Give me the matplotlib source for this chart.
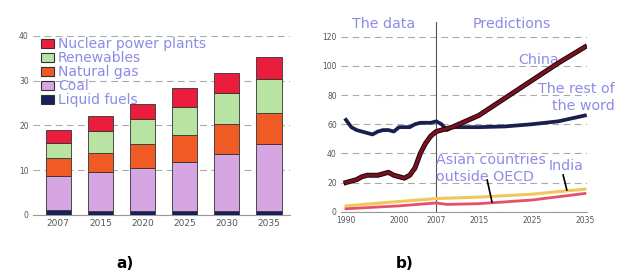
import matplotlib
matplotlib.use("Agg")
import matplotlib.pyplot as plt
import matplotlib.patheffects as pe
from matplotlib.patches import Patch

# ---- panel a data ----
years_a = ['2007', '2015', '2020', '2025', '2030', '2035']
liquid_fuels = [1.2, 1.0, 1.0, 1.0, 1.0, 1.0]
coal = [7.5, 8.7, 9.6, 10.9, 12.6, 14.8]
natural_gas = [4.0, 4.2, 5.2, 6.0, 6.7, 7.1]
renewables = [3.5, 4.9, 5.7, 6.3, 7.0, 7.6]
nuclear = [2.8, 3.3, 3.2, 4.1, 4.4, 4.7]

# ---- panel b data ----
rest_years = [1990, 1991, 1992, 1993, 1994, 1995, 1996, 1997, 1998, 1999, 2000, 2001, 2002,
              2003, 2004, 2005, 2006, 2007, 2008, 2009, 2010, 2015, 2020, 2025, 2030, 2035]
rest_world = [63, 58, 56, 55, 54, 53, 55, 56, 56, 55, 58, 58, 58,
              60, 61, 61, 61, 62, 60, 56, 58, 58, 58.5, 60, 62, 66]
china_years = [1990, 1991, 1992, 1993, 1994, 1995, 1996, 1997, 1998, 1999, 2000, 2001, 2002,
               2003, 2004, 2005, 2006, 2007, 2008, 2009, 2010, 2015, 2020, 2025, 2030, 2035]
china = [20, 21, 22, 24, 25, 25, 25, 26, 27, 25, 24, 23, 25,
         30, 40, 47, 52, 55, 56, 57, 58, 66, 78, 90, 102, 113]
asia_years = [1990, 2000, 2007, 2015, 2025, 2035]
asia = [4, 7, 9, 10, 12, 15.5]
india_years = [1990, 2000, 2007, 2009, 2015, 2025, 2035]
india = [2, 4, 6, 5, 5.5, 8, 12.5]
ticks_b = [1990, 2000, 2007, 2015, 2025, 2035]

txt_col = '#8c8ce8'
tick_col = '#555555'

fig = plt.figure(figsize=(6.19, 2.72), dpi=100)
fig.patch.set_facecolor('white')

# ---------- panel a ----------
ax1 = fig.add_axes([33/619, 1-215/272, (290-33)/619, (215-36)/272])
cols = {'Liquid fuels': '#1c1f5e', 'Coal': '#d6a6e2', 'Natural gas': '#f05a24',
        'Renewables': '#b9e3a2', 'Nuclear power plants': '#ea1e3c'}
series = [('Liquid fuels', liquid_fuels), ('Coal', coal), ('Natural gas', natural_gas),
          ('Renewables', renewables), ('Nuclear power plants', nuclear)]
xs = list(range(len(years_a)))
bottom = [0]*len(years_a)
for name, vals in series:
    ax1.bar(xs, vals, bottom=bottom, width=0.6, color=cols[name],
            edgecolor='#333333', linewidth=0.6, zorder=3)
    bottom = [b+v for b, v in zip(bottom, vals)]
ax1.set_xlim(-0.6, 5.5)
ax1.set_ylim(0, 40)
ax1.set_yticks([0, 10, 20, 30, 40])
ax1.set_xticks(xs)
ax1.set_xticklabels(years_a)
ax1.yaxis.grid(True, linestyle=(0, (6, 4)), color='#aaaaaa', linewidth=0.8, zorder=0)
for s in ['top', 'right', 'left']:
    ax1.spines[s].set_visible(False)
ax1.spines['bottom'].set_color('#999999')
ax1.tick_params(axis='both', colors=tick_col, length=0, pad=3)
ax1.tick_params(axis='x', labelsize=6.5)
ax1.tick_params(axis='y', labelsize=5.5)
handles = [Patch(facecolor=cols[n], edgecolor='#333333', linewidth=0.8, label=n)
           for n in ['Nuclear power plants', 'Renewables', 'Natural gas', 'Coal', 'Liquid fuels']]
leg = ax1.legend(handles=handles, loc='upper left', bbox_to_anchor=(0.0, 1.04),
                 frameon=False, fontsize=10, handlelength=0.9, handleheight=0.6,
                 handletextpad=0.3, labelspacing=0.0, borderaxespad=0.2)
for t in leg.get_texts():
    t.set_color(txt_col)
leg.set_zorder(5)

# ---------- panel b ----------
ax2 = fig.add_axes([341/619, 1-211.7/272, (587-341)/619, (211.7-22.2)/272])
ax2.set_xlim(1989.06, 2035.4)
ax2.set_ylim(0, 130)
ax2.set_yticks([0, 20, 40, 60, 80, 100, 120])
ax2.set_xticks(ticks_b)
ax2.yaxis.grid(True, linestyle=(0, (6, 4)), color='#aaaaaa', linewidth=0.8, zorder=0)
for s in ['top', 'right', 'left']:
    ax2.spines[s].set_visible(False)
ax2.spines['bottom'].set_color('#999999')
ax2.tick_params(axis='both', labelsize=5.5, colors=tick_col, length=0, pad=3)

ax2.plot(asia_years, asia, color='#f2c65a', linewidth=2.2, zorder=3)
ax2.plot(india_years, india, color='#e8506a', linewidth=2.0, zorder=3)
ax2.plot(rest_years, rest_world, color='#1a1f4f', linewidth=2.7, zorder=4)
ax2.plot(china_years, china, color='#7a1020', linewidth=2.2, zorder=5,
         path_effects=[pe.Stroke(linewidth=3.6, foreground='#1a0808'), pe.Normal()])
ax2.axvline(2007, color='#555555', linewidth=0.8, zorder=2)

fs = 10.3
ax2.text(1997.1, 128.7, 'The data', color=txt_col, fontsize=fs, ha='center', va='center')
ax2.text(2021.3, 128.7, 'Predictions', color=txt_col, fontsize=fs, ha='center', va='center')
ax2.text(2026.3, 104, 'China', color=txt_col, fontsize=fs, ha='center', va='center')
ax2.text(2040.6, 84, 'The rest of', color=txt_col, fontsize=fs, ha='right', va='center')
ax2.text(2040.6, 72.5, 'the word', color=txt_col, fontsize=fs, ha='right', va='center')
ax2.text(2007.0, 35.5, 'Asian countries', color=txt_col, fontsize=fs, ha='left', va='center')
ax2.text(2007.0, 23.8, 'outside OECD', color=txt_col, fontsize=fs, ha='left', va='center')
ax2.text(2028.2, 31.3, 'India', color=txt_col, fontsize=fs, ha='left', va='center')
ax2.plot([2016.6, 2017.5], [21.7, 6.7], color='black', linewidth=1.2, zorder=6)
ax2.plot([2030.9, 2031.6], [25.2, 14.9], color='black', linewidth=1.2, zorder=6)

fig.text(125/619, 1-263/272, 'a)', fontsize=11, fontweight='bold', ha='center', va='center')
fig.text(405/619, 1-263/272, 'b)', fontsize=11, fontweight='bold', ha='center', va='center')

fig.savefig('out.png', dpi=100, facecolor='white')
